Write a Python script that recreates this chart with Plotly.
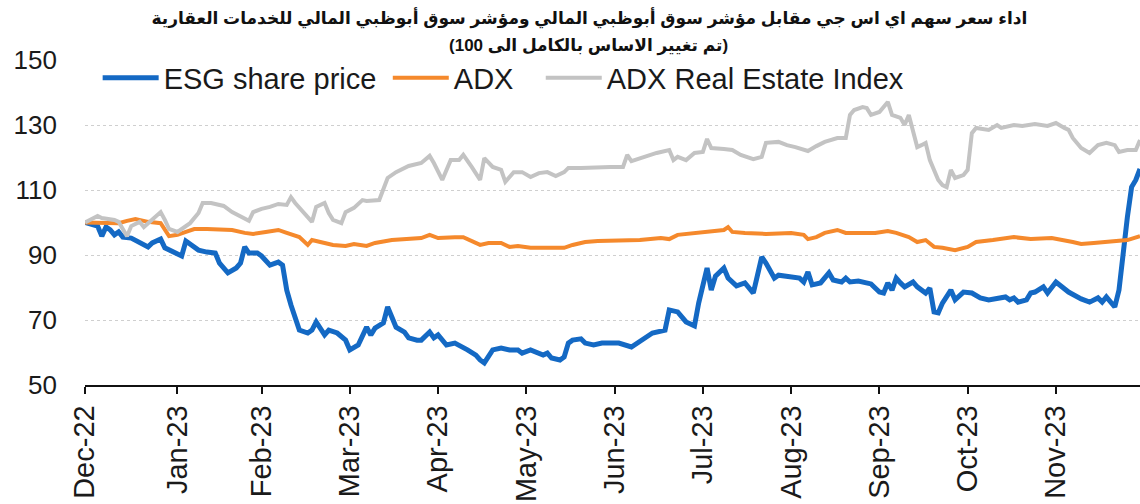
import plotly.graph_objects as go

# ---- data (rebased to 100), x = trading-day index ----
month_ticks = [0, 22, 42, 63, 84, 105, 126, 147, 168, 189, 210, 231]
month_labels = ["Dec-22", "Jan-23", "Feb-23", "Mar-23", "Apr-23", "May-23",
                "Jun-23", "Jul-23", "Aug-23", "Sep-23", "Oct-23", "Nov-23"]

esg_x = [0, 3, 4, 5, 6, 7, 8, 9, 11, 14, 15, 16, 18, 19, 22, 23, 24, 26, 27, 29,
         31, 32, 34, 36, 37, 38, 39, 41, 42, 44, 46, 47, 48, 49, 51, 53, 54, 55, 57, 58,
         60, 62, 63, 65, 67, 68, 69, 71, 72, 73, 74, 76, 77, 79, 80, 82, 83, 84, 86, 88,
         89, 91, 93, 94, 95, 96, 97, 99, 101, 103, 104, 106, 107, 109, 110, 111, 113, 114, 115, 116,
         118, 119, 121, 123, 125, 127, 130, 135, 138, 139, 141, 143, 145, 146, 148, 149, 150, 152, 153, 155,
         157, 159, 160, 161, 162, 164, 165, 168, 170, 171, 172, 173, 175, 177, 178, 180, 181, 182, 184, 187,
         189, 190, 191, 192, 193, 194, 195, 197, 198, 200, 201, 202, 203, 204, 206, 207, 209, 211, 213, 215,
         217, 219, 220, 221, 222, 224, 225, 226, 228, 229, 231, 232, 234, 237, 239, 241, 242, 243, 245, 246,
         247, 248, 249, 250, 251]
esg_y = [100, 98.9, 95.8, 98.6, 97.7, 96.2, 97.1, 95.5, 95.2, 93.1, 92.5, 93.7, 94.9, 92.2, 90.6, 89.7, 94.3, 92.5, 91.5, 90.9,
         90.6, 87.5, 84.5, 86.0, 87.5, 92.5, 90.6, 90.6, 89.7, 86.9, 87.8, 86.9, 79.2, 74.6, 66.9, 66.0, 66.9, 69.4, 65.4, 66.9,
         66.0, 63.8, 60.8, 62.3, 67.8, 65.4, 67.5, 69.1, 74.0, 70.9, 67.8, 66.3, 64.5, 63.8, 63.8, 66.3, 64.5, 65.4, 62.3, 62.9,
         62.3, 60.8, 59.2, 57.7, 56.8, 58.6, 60.8, 61.4, 60.8, 60.8, 59.8, 60.8, 60.2, 59.2, 59.8, 58.3, 57.7, 58.6, 62.9, 63.8,
         64.2, 62.9, 62.3, 62.9, 62.9, 62.9, 61.7, 66.0, 66.9, 73.1, 72.5, 69.4, 68.2, 75.2, 86.0, 79.2, 83.5, 86.0, 82.9, 80.5,
         81.4, 78.3, 83.8, 89.4, 87.5, 82.9, 83.8, 83.2, 82.9, 81.7, 84.8, 80.8, 81.4, 84.5, 82.3, 81.7, 82.9, 81.7, 82.0, 81.1,
         78.6, 78.3, 81.4, 79.2, 82.9, 81.4, 80.2, 81.7, 80.2, 78.3, 79.8, 72.5, 72.2, 75.2, 79.2, 76.2, 78.6, 78.3, 76.8, 76.2,
         76.8, 77.1, 76.2, 76.8, 75.5, 76.2, 78.3, 78.6, 80.2, 78.3, 81.7, 80.8, 78.6, 76.5, 75.5, 76.8, 75.5, 77.1, 74.0, 79.2,
         91.5, 101.7, 110.9, 113.1, 116.5]

adx_x = [0, 5, 8, 10, 12, 15, 17, 18, 20, 22, 24, 26, 29, 32, 35, 38, 40, 43, 46, 48,
         51, 53, 54, 57, 59, 62, 64, 67, 69, 73, 77, 80, 82, 84, 88, 90, 94, 96, 99, 101,
         103, 106, 110, 114, 116, 119, 122, 125, 127, 132, 137, 139, 141, 146, 149, 152, 153, 154, 157, 162,
         168, 171, 172, 174, 176, 179, 181, 186, 188, 191, 193, 196, 198, 200, 202, 204, 207, 210, 212, 216,
         221, 225, 230, 235, 237, 240, 244, 248, 251]
adx_y = [100, 99.8, 99.8, 100.5, 101.1, 100.2, 99.8, 99.8, 95.8, 96.2, 97.1, 98.0, 98.0, 98.0, 97.7, 96.8, 96.5, 97.1, 97.7, 96.8,
         95.5, 93.1, 94.6, 93.7, 93.1, 92.8, 93.4, 92.8, 93.7, 94.6, 94.9, 95.2, 96.2, 95.2, 95.5, 95.5, 93.1, 93.7, 93.7, 92.5,
         92.8, 92.2, 92.2, 92.2, 93.1, 94.0, 94.3, 94.3, 94.3, 94.6, 95.2, 94.9, 96.2, 96.8, 97.1, 97.7, 98.6, 97.1, 96.8, 96.5,
         96.8, 96.2, 94.9, 95.5, 96.8, 97.7, 96.8, 96.8, 96.8, 97.4, 96.8, 95.5, 94.0, 94.6, 92.5, 92.2, 91.5, 92.5, 94.0, 94.6,
         95.5, 94.9, 95.2, 94.0, 93.4, 93.7, 94.0, 94.6, 95.8]

re_x = [0, 3, 4, 7, 8, 9, 10, 11, 13, 14, 16, 18, 19, 20, 22, 23, 25, 27, 28, 30,
        33, 35, 37, 39, 40, 42, 44, 46, 48, 49, 50, 52, 54, 55, 57, 58, 59, 61, 62, 64,
        66, 67, 70, 72, 74, 77, 80, 82, 83, 85, 87, 89, 90, 92, 94, 95, 97, 99, 100, 102,
        104, 106, 108, 110, 112, 114, 115, 118, 122, 125, 128, 129, 130, 133, 136, 139, 140, 141, 143, 145,
        147, 148, 149, 152, 154, 156, 159, 161, 162, 165, 167, 169, 172, 174, 176, 179, 181, 182, 183, 185,
        186, 187, 189, 191, 192, 194, 195, 196, 197, 198, 199, 200, 201, 203, 204, 205, 206, 207, 209, 210,
        211, 212, 215, 217, 218, 221, 223, 226, 229, 231, 233, 234, 235, 237, 239, 241, 243, 245, 246, 248,
        250, 251]
re_y = [100, 102.0, 101.4, 100.8, 100.2, 98.0, 95.8, 98.9, 100.2, 98.6, 100.8, 103.2, 100.8, 98.0, 97.1, 98.0, 99.8, 102.9, 106.0, 106.0,
        105.1, 103.2, 101.7, 100.5, 103.2, 104.2, 104.8, 105.7, 105.4, 107.8, 106.0, 102.9, 100.2, 104.8, 106.0, 102.9, 100.8, 99.8, 103.2, 104.5,
        106.9, 106.6, 106.9, 113.7, 115.5, 117.4, 118.3, 120.5, 118.3, 113.1, 119.2, 119.2, 120.8, 117.1, 113.1, 119.8, 117.1, 116.2, 112.5, 115.5,
        115.5, 114.0, 115.2, 115.5, 114.3, 115.5, 116.8, 116.8, 117.1, 117.1, 117.1, 120.8, 118.9, 120.2, 121.4, 122.3, 119.2, 120.2, 119.2, 121.4,
        121.7, 125.7, 122.9, 122.6, 122.3, 120.8, 119.5, 120.2, 124.5, 124.8, 123.8, 123.2, 122.0, 123.5, 124.8, 126.0, 126.0, 133.1, 134.6, 135.5,
        135.2, 133.1, 134.0, 137.1, 133.1, 132.2, 130.0, 133.1, 127.5, 123.2, 123.8, 124.5, 119.2, 113.1, 111.5, 110.9, 116.2, 113.7, 114.6, 116.2,
        127.5, 129.1, 128.5, 130.0, 129.1, 130.0, 129.7, 130.3, 129.7, 130.6, 129.1, 128.5, 126.0, 122.9, 121.4, 123.8, 124.5, 123.8, 121.7, 122.3,
        122.3, 125.4]

title_line1 = "اداء سعر سهم اي اس جي مقابل مؤشر سوق أبوظبي المالي ومؤشر سوق أبوظبي المالي للخدمات العقارية"
title_line2 = "\u202b(تم تغيير الاساس بالكامل الى 100)\u202c"

FONT = "Arial, Liberation Sans, DejaVu Sans, sans-serif"

fig = go.Figure()
fig.add_trace(go.Scatter(x=esg_x, y=esg_y, mode="lines", name="ESG share price",
                         line=dict(color="#1469c4", width=5), legend="legend"))
fig.add_trace(go.Scatter(x=adx_x, y=adx_y, mode="lines", name="ADX",
                         line=dict(color="#f5892c", width=4), legend="legend2"))
fig.add_trace(go.Scatter(x=re_x, y=re_y, mode="lines", name="ADX Real Estate Index",
                         line=dict(color="#c3c3c3", width=4), legend="legend3"))

leg_common = dict(bgcolor="rgba(0,0,0,0)", font=dict(family=FONT, size=29, color="#1a1a1a"),
                  y=0.945, yanchor="middle", xanchor="left", orientation="h", itemwidth=56)

fig.update_layout(
    width=1140, height=504,
    margin=dict(l=85, r=0, t=60, b=119),
    paper_bgcolor="white", plot_bgcolor="white",
    showlegend=True,
    font=dict(family=FONT, color="#1a1a1a"),
    title=dict(text="<b>" + title_line1 + "</b>", x=0.517, xanchor="center",
               y=1 - 18 / 504, yanchor="middle", yref="container",
               font=dict(family="Arial, DejaVu Sans, sans-serif", size=17, color="#111")),
    annotations=[dict(text="<b>" + title_line2 + "</b>", xref="paper", yref="paper",
                      x=(588 - 85) / 1055, y=(385 - 46) / 325, xanchor="center", yanchor="middle",
                      showarrow=False,
                      font=dict(family="Arial, DejaVu Sans, sans-serif", size=17, color="#111"))],
    legend=dict(x=0.012, **leg_common),
    legend2=dict(x=0.287, **leg_common),
    legend3=dict(x=0.432, **leg_common),
    xaxis=dict(range=[0, 251], tickmode="array", tickvals=month_ticks, ticktext=month_labels,
               tickangle=-90, ticks="outside", ticklen=7, tickcolor="#111", tickwidth=1.5,
               showline=True, linecolor="#111", linewidth=1.5, showgrid=False, zeroline=False,
               automargin=False,
               tickfont=dict(family=FONT, size=29, color="#1a1a1a")),
    yaxis=dict(range=[50, 150], tick0=50, dtick=20, showgrid=True, gridcolor="#cfcfcf",
               griddash="dot", gridwidth=1, zeroline=False, showline=False, ticks="",
               ticklabelstandoff=27, automargin=False,
               tickfont=dict(family=FONT, size=26, color="#1a1a1a")),
)

fig.write_html("out.html", post_script="document.body.style.margin='0px';",
               config={"displayModeBar": False})
